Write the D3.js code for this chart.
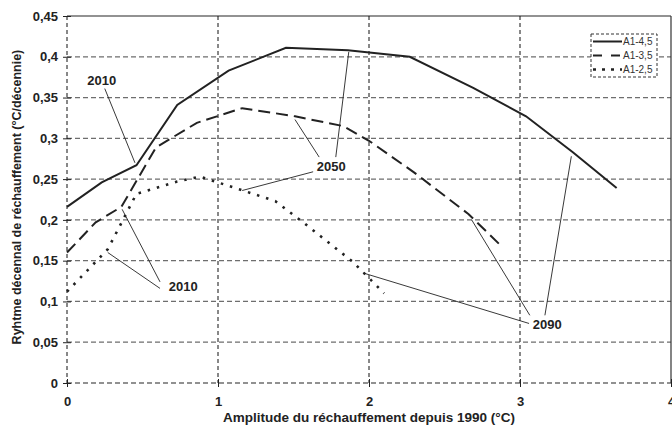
<!DOCTYPE html>
<html>
<head>
<meta charset="utf-8">
<script src="https://cdn.jsdelivr.net/npm/d3@7"></script>
<style>
  body { margin: 0; background: #fff; }
  svg { display: block; font-family: "Liberation Sans", Arial, sans-serif; }
</style>
</head>
<body>
<svg id="chart" width="672" height="427"></svg>
<script>
// data
const seriesNames = ["A1-4,5", "A1-3,5", "A1-2,5"];
const a145 = [[0, 0.216], [0.23, 0.246], [0.46, 0.267], [0.73, 0.341], [1.07, 0.383], [1.45, 0.411], [1.86, 0.408], [2.27, 0.4], [2.69, 0.362], [3.04, 0.327], [3.35, 0.283], [3.64, 0.239]];
const a135 = [[0, 0.16], [0.19, 0.197], [0.36, 0.216], [0.59, 0.289], [0.86, 0.319], [1.16, 0.337], [1.51, 0.327], [1.83, 0.315], [2.0, 0.297], [2.3, 0.258], [2.66, 0.207], [2.87, 0.169]];
const a125 = [[0, 0.112], [0.27, 0.164], [0.46, 0.232], [0.73, 0.247], [0.88, 0.253], [1.15, 0.237], [1.38, 0.223], [1.55, 0.199], [1.89, 0.149], [2.1, 0.11]];
const xTicks = [0, 1, 2, 3, 4];
const yTicks = [0, 0.05, 0.1, 0.15, 0.2, 0.25, 0.3, 0.35, 0.4, 0.45];

// annotations: label, label position, leader ends (data coords)
const notes = [
  { text: "2010", at: [0.23, 0.371], leaders: [[[0.25, 0.361], [0.45, 0.27]]] },
  { text: "2010", at: [0.77, 0.118], leaders: [[[0.616, 0.124], [0.365, 0.213]], [[0.616, 0.116], [0.27, 0.16]]] },
  { text: "2050", at: [1.75, 0.265], leaders: [[[1.67, 0.277], [1.51, 0.323]], [[1.78, 0.277], [1.866, 0.406]], [[1.63, 0.259], [1.16, 0.236]]] },
  { text: "2090", at: [3.18, 0.072], leaders: [[[3.065, 0.083], [2.68, 0.2]], [[3.165, 0.083], [3.34, 0.278]], [[3.06, 0.073], [1.96, 0.135]]] }
];

const margin = { top: 16, right: 1, bottom: 44, left: 67 };
const width = 672 - margin.left - margin.right;
const height = 427 - margin.top - margin.bottom;

const svg = d3.select("#chart");
const g = svg.append("g").attr("transform", `translate(${margin.left},${margin.top})`);

const x = d3.scaleLinear().domain([0, 4]).range([0, width]);
const y = d3.scaleLinear().domain([0, 0.45]).range([height, 0]);
const fmt = (d) => String(+d.toFixed(2)).replace(".", ",");

// horizontal grid (gray dashed)
g.append("g")
  .selectAll("line")
  .data(yTicks)
  .enter()
  .append("line")
  .attr("x1", 0)
  .attr("x2", width)
  .attr("y1", (d) => y(d))
  .attr("y2", (d) => y(d))
  .attr("stroke", "#6e6e6e")
  .attr("stroke-width", 1.3)
  .attr("stroke-dasharray", (d) => (d === 0.45 ? null : "5,3"));

// vertical grid (black dashed)
g.append("g")
  .selectAll("line")
  .data(xTicks.slice(0, 4))
  .enter()
  .append("line")
  .attr("x1", (d) => x(d))
  .attr("x2", (d) => x(d))
  .attr("y1", 0)
  .attr("y2", height)
  .attr("stroke", "#111")
  .attr("stroke-width", 1)
  .attr("stroke-dasharray", "4,3");

// right border
g.append("line")
  .attr("x1", x(4)).attr("x2", x(4))
  .attr("y1", 0).attr("y2", height)
  .attr("stroke", "#333").attr("stroke-width", 1.2);

// axes
const yAxis = g.append("g").call(d3.axisLeft(y).tickValues(yTicks).tickFormat(fmt).tickSize(4).tickSizeOuter(0));
yAxis.select(".domain").remove();
yAxis.selectAll(".tick line").attr("x2", 4).attr("x1", -4).attr("stroke", "#222");
yAxis.selectAll("text")
  .attr("x", -9)
  .attr("font-size", 13)
  .attr("font-weight", "bold")
  .attr("fill", "#222");

const xAxis = g.append("g")
  .attr("transform", `translate(0,${height})`)
  .call(d3.axisBottom(x).tickValues(xTicks).tickFormat(fmt).tickSize(4).tickSizeOuter(0));
xAxis.select(".domain").remove();
xAxis.selectAll(".tick line").attr("y1", -4).attr("stroke", "#222");
xAxis.selectAll("text")
  .attr("y", 14)
  .attr("font-size", 13)
  .attr("font-weight", "bold")
  .attr("fill", "#222");

// axis titles
svg.append("text")
  .attr("x", 369)
  .attr("y", 422)
  .attr("text-anchor", "middle")
  .attr("font-size", 13.5)
  .attr("font-weight", "bold")
  .attr("fill", "#222")
  .text("Amplitude du réchauffement depuis 1990 (°C)");

svg.append("text")
  .attr("transform", `translate(21,${margin.top + y(0.228)}) rotate(-90)`)
  .attr("text-anchor", "middle")
  .attr("font-size", 12.5)
  .attr("font-weight", "bold")
  .attr("fill", "#222")
  .text("Ryhtme décennal de réchauffement (°C/décennie)");

// series
const line = d3.line().x((d) => x(d[0])).y((d) => y(d[1]));
const styles = [
  { data: a145, dash: null, w: 2 },
  { data: a135, dash: "12,6", w: 2 },
  { data: a125, dash: "2.5,7", w: 2.6 }
];
styles.forEach((s) => {
  g.append("path")
    .datum(s.data)
    .attr("d", line)
    .attr("fill", "none")
    .attr("stroke", "#222")
    .attr("stroke-width", s.w)
    .attr("stroke-dasharray", s.dash);
});

// annotations
notes.forEach((n) => {
  n.leaders.forEach((l) => {
    g.append("line")
      .attr("x1", x(l[0][0])).attr("y1", y(l[0][1]))
      .attr("x2", x(l[1][0])).attr("y2", y(l[1][1]))
      .attr("stroke", "#222")
      .attr("stroke-width", 0.9);
  });
  g.append("text")
    .attr("x", x(n.at[0]))
    .attr("y", y(n.at[1]))
    .attr("dy", "0.35em")
    .attr("text-anchor", "middle")
    .attr("font-size", 13)
    .attr("font-weight", "bold")
    .attr("fill", "#222")
    .text(n.text);
});

// legend
const lg = svg.append("g").attr("transform", "translate(591,34)");
lg.append("rect")
  .attr("width", 66)
  .attr("height", 43)
  .attr("fill", "#fff")
  .attr("stroke", "#333")
  .attr("stroke-width", 1)
  .attr("stroke-dasharray", "3,2");
seriesNames.forEach((name, i) => {
  const yy = 7.5 + i * 14;
  lg.append("line")
    .attr("x1", 2).attr("x2", 31)
    .attr("y1", yy).attr("y2", yy)
    .attr("stroke", "#222")
    .attr("stroke-width", styles[i].w)
    .attr("stroke-dasharray", i === 0 ? null : i === 1 ? "9,9" : "3,6");
  lg.append("text")
    .attr("x", 32)
    .attr("y", yy)
    .attr("dy", "0.35em")
    .attr("font-size", 10)
    .attr("fill", "#333")
    .text(name);
});
</script>
</body>
</html>
